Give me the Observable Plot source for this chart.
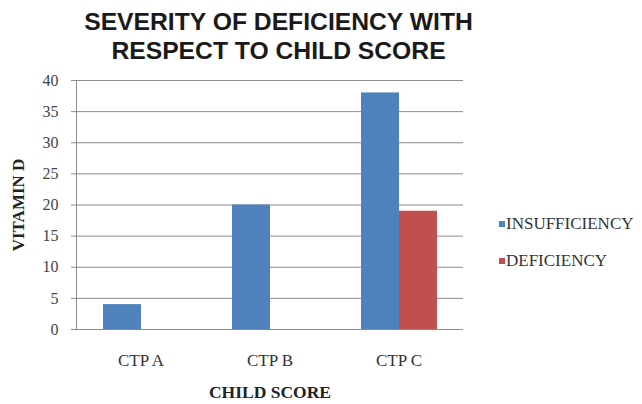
<!DOCTYPE html>
<html>
<head>
<meta charset="utf-8">
<script src="https://cdn.jsdelivr.net/npm/d3@7"></script>
<script src="https://cdn.jsdelivr.net/npm/@observablehq/plot@0.6"></script>
<style>
  html, body { margin: 0; padding: 0; background: #fff; }
  #wrap { position: relative; width: 642px; height: 404px; overflow: hidden; }
  #title { height: 66px; box-sizing: border-box; padding-top: 7px; width: 557px; text-align: center;
           font-family: "Liberation Sans", Arial, sans-serif; font-weight: bold; font-size: 24.7px; line-height: 29px; color: #1a1a1a; }
  .leg { position: absolute; left: 499px; font-family: "Liberation Serif", "Times New Roman", serif; font-size: 17px; color: #333; white-space: nowrap; display: flex; align-items: center; }
  .leg span.sw { display: inline-block; width: 6px; height: 6px; margin-right: 1px; }
</style>
</head>
<body>
<div id="wrap">
  <div id="title">SEVERITY OF DEFICIENCY WITH<br>RESPECT TO CHILD SCORE</div>
  <div id="chart"></div>
  <div id="legend"></div>
</div>
<script>
const categories = ["CTP A", "CTP B", "CTP C"];
const seriesNames = ["INSUFFICIENCY", "DEFICIENCY"];
const insufficiency = [4, 20, 38];
const deficiency = [0, 0, 19];
const yTicks = [0, 5, 10, 15, 20, 25, 30, 35, 40];
const colors = ["#4F81BD", "#C0504D"];
const yLabel = "VITAMIN D";
const xLabel = "CHILD SCORE";

const rows = [];
categories.forEach((c, i) => {
  rows.push({cat: c, series: seriesNames[0], value: insufficiency[i]});
  rows.push({cat: c, series: seriesNames[1], value: deficiency[i]});
});

const chart = Plot.plot({
  width: 642,
  height: 338,
  marginLeft: 76,
  marginRight: 179,
  marginTop: 14,
  marginBottom: 75,
  style: {fontFamily: "'Liberation Serif', 'Times New Roman', serif", color: "#333", background: "#fff"},
  fx: {domain: categories, padding: 0, axis: null},
  x: {domain: seriesNames, paddingInner: 0, paddingOuter: 0.675, axis: null},
  y: {domain: [0, 40], axis: null},
  color: {domain: seriesNames, range: colors},
  marks: [
    Plot.ruleY(yTicks, {y: d => d, stroke: "#8c8c8c", strokeWidth: 1}),
    Plot.barY(rows, {fx: "cat", x: "series", y: "value", fill: "series"}),
    Plot.frame({anchor: "left", stroke: "#8c8c8c", facetAnchor: "left"}),
    Plot.axisY({ticks: yTicks, tickSize: 5, tickPadding: 13, fontSize: 16, stroke: "#8c8c8c", color: "#444", label: null}),
    Plot.axisFx({anchor: "bottom", tickSize: 0, tickPadding: 24, fontSize: 17, color: "#333", label: null}),
    Plot.text([yLabel], {frameAnchor: "left", textAnchor: "middle", lineAnchor: "middle", rotate: -90, dx: -58, fontSize: 17, fontWeight: "bold", fill: "#222", facetAnchor: "left"}),
    Plot.text([xLabel], {fx: () => categories[1], frameAnchor: "bottom", lineAnchor: "middle", dy: 63, fontSize: 17.5, fontWeight: "bold", fill: "#222"})
  ]
});
document.getElementById("chart").appendChild(chart);

const legend = document.getElementById("legend");
const legendTops = [214, 251];
seriesNames.forEach((s, i) => {
  const d = document.createElement("div");
  d.className = "leg";
  d.style.top = legendTops[i] + "px";
  d.innerHTML = `<span class="sw" style="background:${colors[i]}"></span>${s}`;
  legend.appendChild(d);
});
</script>
</body>
</html>
